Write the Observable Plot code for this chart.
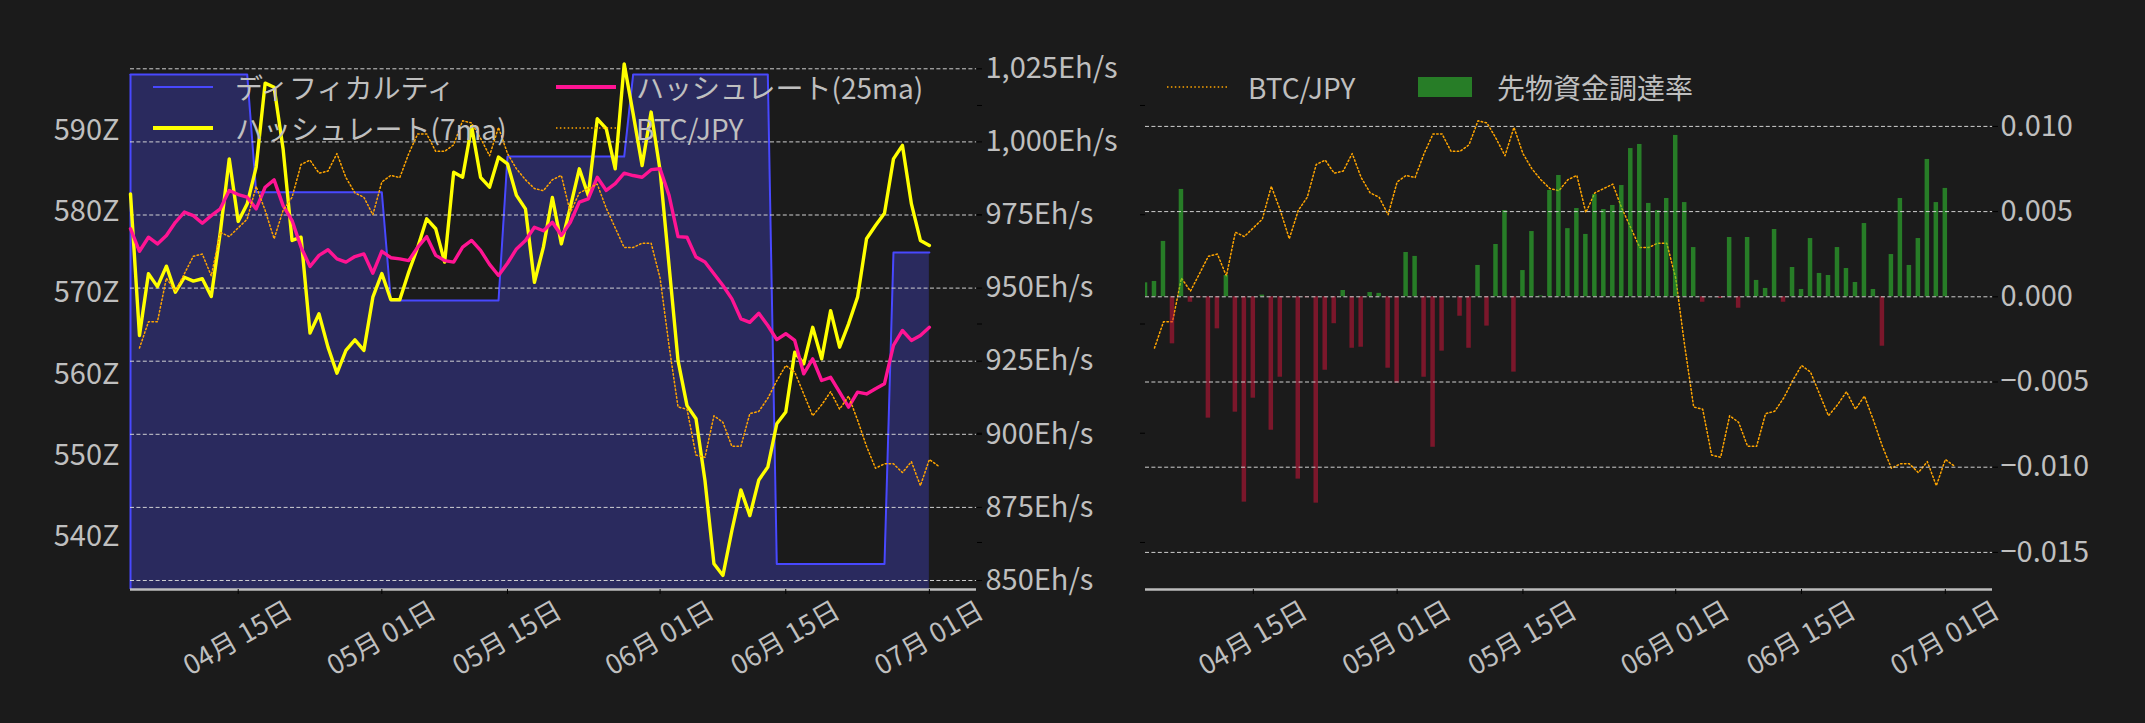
<!DOCTYPE html>
<html>
<head>
<meta charset="utf-8">
<script src="https://cdn.jsdelivr.net/npm/d3@7"></script>
<script src="https://cdn.jsdelivr.net/npm/@observablehq/plot@0.6"></script>
<style>
  html, body { margin: 0; padding: 0; background: #1b1b1b; overflow: hidden; }
  #wrap { position: relative; width: 2145px; height: 723px; overflow: hidden; background: #1b1b1b;
          font-family: "Noto Sans CJK JP", "Noto Sans", sans-serif; }
  #wrap svg.layer { position: absolute; left: 0; top: 0; max-width: none; }
  .lg { position: absolute; display: flex; align-items: center; height: 40px; color: #bfbfbf;
        font-size: 28px; white-space: nowrap; line-height: 40px; }
  .lg svg { display: block; }
</style>
</head>
<body>
<div id="wrap"></div>
<script>
// ---------------- data ----------------
// daily series 2025-04-03 .. 2025-07-01 (90 days)
const dates = d3.utcDay.range(new Date("2025-04-03T00:00Z"), new Date("2025-07-02T00:00Z"));
// BTC/JPY series 2025-04-04 .. 2025-07-02 (90 days)
const btcDates = d3.utcDay.range(new Date("2025-04-04T00:00Z"), new Date("2025-07-03T00:00Z"));

// ディフィカルティ (Z)
const difficultyZ = [
  596.9,596.9,596.9,596.9,596.9,596.9,596.9,596.9,596.9,596.9,596.9,596.9,596.9,596.9,
  582.4,582.4,582.4,582.4,582.4,582.4,582.4,582.4,582.4,582.4,582.4,582.4,582.4,582.4,582.4,
  569.1,569.1,569.1,569.1,569.1,569.1,569.1,569.1,569.1,569.1,569.1,569.1,569.1,
  586.8,586.8,586.8,586.8,586.8,586.8,586.8,586.8,586.8,586.8,586.8,586.8,586.8,586.8,
  596.9,596.9,596.9,596.9,596.9,596.9,596.9,596.9,596.9,596.9,596.9,596.9,596.9,596.9,596.9,596.9,
  536.7,536.7,536.7,536.7,536.7,536.7,536.7,536.7,536.7,536.7,536.7,536.7,536.7,
  575.0,575.0,575.0,575.0,575.0
];

// ハッシュレート(7ma) Eh/s
const hashrate7ma = [
  982.2,933.8,954.9,950.5,957.5,948.6,953.7,952.4,953.2,947.1,
  969.0,994.2,972.8,978.8,991.4,1020.1,1018.7,997.6,966.3,967.4,
  934.6,941.2,929.8,920.9,928.7,932.3,928.7,946.9,955.0,946.0,
  946.0,955.5,964.0,973.7,970.3,958.9,989.6,987.9,1005.3,987.9,
  984.5,994.8,992.5,981.7,977.1,952.0,964.0,981.0,965.1,977.7,
  990.8,981.7,1007.9,1004.5,990.8,1026.7,1009.6,991.9,1010.2,990.2,
  957.7,925.2,909.8,905.3,884.2,855.7,851.7,867.1,881.0,872.2,
  884.4,888.8,903.6,907.6,928.1,924.1,936.6,925.8,942.3,929.8,
  937.8,946.9,966.9,971.4,975.6,994.2,998.8,978.8,966.3,964.6
];

// ハッシュレート(25ma) Eh/s
const hashrate25ma = [
  970.3,962.6,967.4,965.1,968.0,972.5,976.0,974.8,972.2,974.8,
  977.1,983.4,982.0,981.1,977.1,984.5,987.0,978.2,973.1,964.0,
  957.4,961.2,963.1,960.0,958.9,960.8,961.7,955.1,962.6,960.4,
  960.0,959.4,964.0,967.6,961.2,959.4,958.9,964.0,966.3,962.9,
  958.1,954.3,958.5,963.4,966.3,970.8,969.6,972.5,968.0,972.5,
  979.4,980.5,987.9,983.4,985.7,989.3,988.5,987.9,990.5,990.8,
  981.7,967.6,967.4,960.6,958.9,954.9,950.9,946.3,939.5,938.3,
  941.4,937.2,932.4,934.4,932.1,920.7,925.8,918.4,919.5,914.4,
  909.3,914.4,913.8,915.6,917.3,930.4,935.5,932.1,933.8,936.6
];

// 先物資金調達率
const fundingRate = [
  0.00082,0.00090,0.00325,-0.00276,0.00630,-0.00032,-0.00006,-0.00712,-0.00188,0.00125,
  -0.00677,-0.01205,-0.00595,0.00010,-0.00783,-0.00472,-0.00006,-0.01070,-0.00006,-0.01211,
  -0.00431,-0.00158,0.00037,-0.00302,-0.00296,0.00025,0.00020,-0.00419,-0.00507,0.00260,
  0.00237,-0.00472,-0.00883,-0.00319,0.00000,-0.00114,-0.00302,0.00184,-0.00172,0.00307,
  0.00506,-0.00442,0.00154,0.00383,0.00005,0.00624,0.00712,0.00400,0.00518,0.00366,
  0.00600,0.00512,0.00536,0.00653,0.00870,0.00894,0.00548,0.00506,0.00577,0.00947,
  0.00553,0.00289,-0.00032,0.00000,-0.00010,0.00348,-0.00067,0.00348,0.00096,0.00049,
  0.00395,-0.00032,0.00172,0.00043,0.00342,0.00137,0.00125,0.00289,0.00166,0.00084,
  0.00430,0.00043,-0.00290,0.00248,0.00577,0.00184,0.00342,0.00806,0.00553,0.00636
];

// BTC/JPY
const btcJpy = [
  14890000,15010000,15010000,15210000,15150000,15230000,15310000,15320000,15220000,15420000,
  15400000,15440000,15480000,15630000,15520000,15390000,15520000,15580000,15730000,15750000,
  15690000,15700000,15780000,15670000,15600000,15580000,15500000,15650000,15680000,15670000,
  15780000,15870000,15870000,15790000,15790000,15820000,15930000,15920000,15850000,15770000,
  15900000,15780000,15710000,15660000,15620000,15610000,15660000,15680000,15510000,15600000,
  15620000,15640000,15530000,15440000,15350000,15350000,15370000,15370000,15210000,14900000,
  14620000,14610000,14400000,14390000,14580000,14550000,14440000,14440000,14590000,14600000,
  14660000,14740000,14810000,14780000,14680000,14580000,14630000,14690000,14610000,14670000,
  14560000,14440000,14340000,14360000,14360000,14320000,14370000,14260000,14380000,14350000
];

// axes
const xTickDates = ["2025-04-15","2025-05-01","2025-05-15","2025-06-01","2025-06-15","2025-07-01"];
const diffTicks = [540, 550, 560, 570, 580, 590];
const hashTicks = [850, 875, 900, 925, 950, 975, 1000, 1025];
const frTicks = [-0.015, -0.010, -0.005, 0.000, 0.005, 0.010];
const btcTicks = [14000000, 14500000, 15000000, 15500000, 16000000];

const xDomain = [new Date("2025-04-03T00:00Z"), new Date("2025-07-06T06:00Z")];
const diffDomain = [533.57, 599.84];
const hashDomain = [846.92, 1031.26];
const btcDomain = [13784904, 16251638];
const frDomain = [-0.017177, 0.014454];

// ---------------- build ----------------
const rows = dates.map((date, i) => ({
  date, diff: difficultyZ[i], h7: hashrate7ma[i], h25: hashrate25ma[i], fr: fundingRate[i]
}));
const btcRows = btcDates.map((date, i) => ({date, btc: btcJpy[i]}));
const xTicks = xTickDates.map(s => new Date(s + "T00:00Z"));
const fmtDate = d3.utcFormat("%m月 %d日");

const FONT = '"Noto Sans CJK JP", "Noto Sans", sans-serif';
const TXT = "#bfbfbf";
const W = 2145, H = 723, MT = 50, MB = 134;
const LEFT = {ml: 130, mr: W - 976};
const RIGHT = {ml: 1145, mr: W - 1992};

function layer(panel, yScale, marks) {
  const svg = Plot.plot({
    width: W, height: H,
    marginTop: MT, marginBottom: MB, marginLeft: panel.ml, marginRight: panel.mr,
    x: {type: "utc", domain: xDomain, label: null},
    y: {...yScale, label: null},
    style: {background: "transparent", fontFamily: FONT, fontSize: "29px", color: TXT, overflow: "visible"},
    marks
  });
  svg.classList.add("layer");
  return svg;
}

function hiddenX() {
  return Plot.axisX({ticks: [], tickFormat: () => "", tickSize: 0, label: null});
}

function xAxisMarks() {
  return [
    Plot.axisX({ticks: xTicks, tickSize: 5, stroke: "#000", tickFormat: () => "", label: null}),
    Plot.text(xTicks, {x: d => d, frameAnchor: "bottom", dy: 49, rotate: -30,
      text: d => fmtDate(d), textAnchor: "middle", lineAnchor: "middle",
      fill: TXT, fontSize: 27, fontFamily: FONT})
  ];
}

const wrap = document.getElementById("wrap");

// ===== LEFT PANEL =====
// layer 1: difficulty
wrap.appendChild(layer(LEFT, {domain: diffDomain}, [
  Plot.areaY(rows, {x: "date", y1: diffDomain[0], y2: "diff", fill: "#2a2a5e", clip: true}),
  Plot.lineY(rows, {x: "date", y: "diff", stroke: "#4848ff", strokeWidth: 2}),
  Plot.ruleX(rows.slice(0, 1), {x: "date", y1: diffDomain[0], y2: "diff", stroke: "#4848ff", strokeWidth: 2}),
  Plot.axisY({anchor: "left", ticks: diffTicks, tickSize: 0, tickPadding: 11, label: null,
    tickFormat: d => d + "Z", fill: TXT, fontSize: 29, fontFamily: FONT}),
  hiddenX()
]));

// layer 2: hashrate
wrap.appendChild(layer(LEFT, {domain: hashDomain}, [
  Plot.gridY(hashTicks, {stroke: "#d9d9d9", strokeOpacity: 0.95, strokeWidth: 1, strokeDasharray: "4,2.4"}),
  Plot.lineY(rows, {x: "date", y: "h7", stroke: "#ffff00", strokeWidth: 3.4, strokeLinejoin: "round"}),
  Plot.lineY(rows, {x: "date", y: "h25", stroke: "#ff1493", strokeWidth: 3.4, strokeLinejoin: "round"}),
  Plot.axisY({anchor: "right", ticks: hashTicks, tickSize: 5, tickPadding: 4, stroke: "#000", label: null,
    tickFormat: d => d3.format(",")(d) + "Eh/s", fill: TXT, fontSize: 29, fontFamily: FONT}),
  Plot.ruleY([hashDomain[0]], {stroke: "#bdbdbd", strokeWidth: 2.4}),
  ...xAxisMarks()
]));

// layer 3: BTC/JPY
wrap.appendChild(layer(LEFT, {domain: btcDomain}, [
  Plot.lineY(btcRows, {x: "date", y: "btc", stroke: "#ffa500", strokeWidth: 1.5, strokeDasharray: "1.5,2.4"}),
  Plot.axisY({anchor: "right", ticks: btcTicks, tickSize: 5, stroke: "#000", tickFormat: () => "", label: null}),
  hiddenX()
]));

// ===== RIGHT PANEL =====
// layer 1: BTC/JPY
wrap.appendChild(layer(RIGHT, {domain: btcDomain}, [
  Plot.lineY(btcRows, {x: "date", y: "btc", stroke: "#ffa500", strokeWidth: 1.5, strokeDasharray: "1.5,2.4"}),
  Plot.axisY({anchor: "left", ticks: btcTicks, tickSize: 5, stroke: "#000", tickFormat: () => "", label: null}),
  hiddenX()
]));

// layer 2: funding rate
const half = d => d3.utcHour.offset(d, -6);
const halfR = d => d3.utcHour.offset(d, 6);
wrap.appendChild(layer(RIGHT, {domain: frDomain}, [
  Plot.rectY(rows, {filter: d => d.fr >= 0, x1: d => half(d.date), x2: d => halfR(d.date),
    y1: 0, y2: "fr", fill: "#32cd32", fillOpacity: 0.55, clip: true}),
  Plot.rectY(rows, {filter: d => d.fr < 0, x1: d => half(d.date), x2: d => halfR(d.date),
    y1: 0, y2: "fr", fill: "#dc143c", fillOpacity: 0.5, clip: true}),
  Plot.gridY(frTicks, {stroke: "#d9d9d9", strokeOpacity: 0.95, strokeWidth: 1, strokeDasharray: "4,2.4"}),
  Plot.axisY({anchor: "right", ticks: frTicks, tickSize: 5, tickPadding: 3, stroke: "#000", label: null,
    tickFormat: d3.format(".3f"), fill: TXT, fontSize: 29, fontFamily: FONT}),
  Plot.ruleY([frDomain[0]], {stroke: "#bdbdbd", strokeWidth: 2.4}),
  ...xAxisMarks()
]));

// ===== LEGENDS =====
function lineSwatch(color, width, dash) {
  return `<svg width="60" height="12"><line x1="0" x2="60" y1="6" y2="6" stroke="${color}" stroke-width="${width}" ${dash ? `stroke-dasharray="${dash}"` : ""}/></svg>`;
}
function patchSwatch(color, opacity) {
  return `<svg width="54" height="22"><rect x="0" y="1" width="54" height="20" fill="${color}" fill-opacity="${opacity}"/></svg>`;
}
function legendItem(left, cy, swatch, label, gap) {
  const el = document.createElement("div");
  el.className = "lg";
  el.style.left = left + "px";
  el.style.top = (cy - 20) + "px";
  el.innerHTML = swatch + `<span style="margin-left:${gap}px">${label}</span>`;
  wrap.appendChild(el);
}
legendItem(153, 87, lineSwatch("#4848ff", 2), "ディフィカルティ", 22);
legendItem(153, 128, lineSwatch("#ffff00", 3.8), "ハッシュレート(7ma)", 22);
legendItem(556, 87, lineSwatch("#ff1493", 3.8), "ハッシュレート(25ma)", 20);
legendItem(556, 128, lineSwatch("#ffa500", 1.5, "1.5,2.4"), "BTC/JPY", 20);
legendItem(1167, 87, lineSwatch("#ffa500", 1.5, "1.5,2.4"), "BTC/JPY", 21);
legendItem(1418, 87, patchSwatch("#32cd32", 0.55), "先物資金調達率", 25);
</script>
</body>
</html>
